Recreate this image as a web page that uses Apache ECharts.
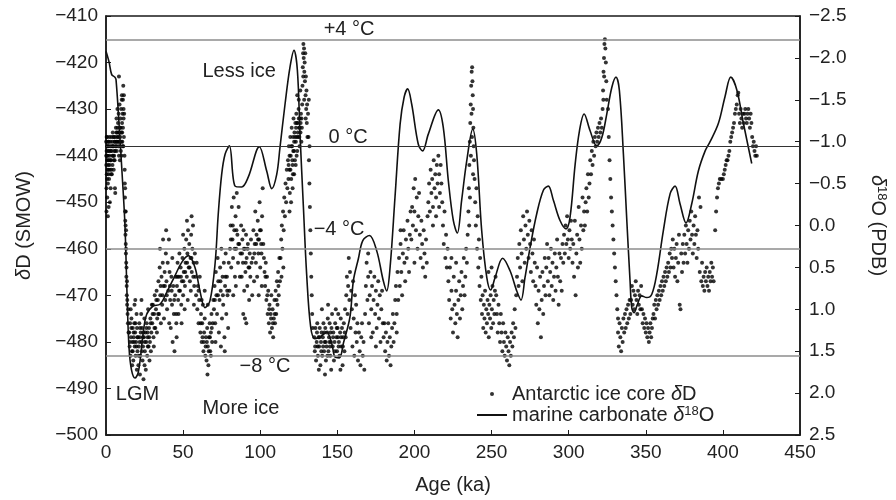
<!DOCTYPE html>
<html>
<head>
<meta charset="utf-8">
<title>Vostok dD vs marine d18O</title>
<script src="https://cdn.jsdelivr.net/npm/echarts@6/dist/echarts.min.js"></script>
<style>
  html, body { margin: 0; padding: 0; background: #fff; }
  #chart { width: 896px; height: 500px; }
</style>
</head>
<body>
<div id="chart"></div>
<script>
// Antarctic ice core dD, [age ka, dD permil SMOW]
var iceCoreDD = [
  [0.1,-437],[0.2,-442],[0.3,-447],[0.4,-439],[0.5,-444],[0.6,-436],[0.7,-441],[0.8,-449],[0.9,-438],[1.0,-443],
  [1.1,-440],[1.2,-446],[1.3,-437],[1.4,-442],[1.5,-439],[1.6,-444],[1.7,-451],[1.8,-438],[1.9,-441],[2.0,-445],
  [2.2,-436],[2.4,-440],[2.6,-443],[2.8,-438],[3.0,-447],[3.2,-441],[3.4,-436],[3.6,-439],[3.8,-444],[4.0,-437],
  [4.2,-442],[4.4,-435],[4.6,-440],[4.8,-438],[5.0,-443],[5.2,-436],[5.4,-439],[5.6,-441],[5.8,-437],[6.0,-448],
  [1.2,-453],[2.5,-450],[0.3,-452],[5.8,-447],
  [0.15,-440],[0.45,-436],[0.75,-445],[1.05,-438],[1.35,-441],[1.65,-437],[1.95,-439],[2.3,-442],[2.7,-437],[3.1,-439],
  [3.5,-443],[3.9,-438],[4.3,-440],[4.7,-436],[5.1,-441],[5.5,-437],[5.9,-439],[6.3,-438],[6.7,-435],[7.1,-437],
  [7.5,-434],[7.9,-436],[8.3,-437],[8.7,-435],[9.1,-438],[9.5,-434],[9.9,-437],[10.5,-435],[10.9,-438],[0.6,-440],
  [1.5,-443],[2.9,-441],[3.3,-444],[4.5,-438],[5.3,-440],
  [6.2,-436],[6.4,-434],[6.6,-438],[6.8,-432],[7.0,-437],[7.2,-435],[7.4,-430],[7.6,-436],[7.8,-433],[8.0,-438],
  [8.2,-431],[8.4,-435],[8.6,-437],[8.8,-429],[9.0,-434],[9.2,-436],[9.4,-432],[9.6,-439],[9.8,-430],[10.0,-435],
  [10.2,-428],[10.4,-433],[10.6,-437],[10.8,-431],[11.0,-434],[11.2,-438],[11.4,-432],[11.6,-436],
  [8.4,-440],[9.0,-441],[10.0,-440],[7.0,-439],[8.4,-423],[11.2,-425],[11.0,-428],[11.4,-430],[11.6,-427],[11.8,-431],[10.3,-427],
  [12.0,-440],[12.1,-443],[12.2,-446],[12.3,-449],[12.4,-452],[12.5,-454],[12.6,-457],[12.7,-455],[12.8,-459],[12.9,-461],
  [13.0,-460],[13.1,-463],[13.2,-466],[13.3,-464],[13.4,-468],[13.5,-470],[13.6,-467],[13.7,-472],[13.8,-471],[14.0,-474],
  [14.2,-476],[14.4,-473],[14.6,-478],[12.4,-447],[12.8,-452],[13.0,-456],
  [15.0,-478],[15.3,-481],[15.6,-476],[15.9,-483],[16.2,-479],[16.5,-475],[16.8,-482],[17.1,-480],[17.4,-477],[17.7,-484],
  [18.0,-479],[18.3,-476],[18.6,-481],[18.9,-478],[19.2,-483],[19.5,-480],[19.8,-474],[20.1,-477],[20.4,-482],[20.7,-479],
  [21.0,-485],[21.3,-481],[21.6,-476],[21.9,-479],[22.2,-483],[22.5,-478],[22.8,-474],[23.1,-480],[23.4,-477],[23.7,-484],
  [24.0,-481],[24.3,-488],[24.6,-479],[24.9,-475],[25.2,-482],[25.5,-478],[25.8,-486],[26.1,-480],[26.4,-476],[26.7,-483],
  [27.0,-479],[27.3,-473],[27.6,-481],[27.9,-477],[28.2,-484],[28.5,-480],[28.8,-475],[29.1,-482],[29.4,-478],[29.7,-472],
  [16.0,-473],[18.5,-472],[20.0,-486],[22.0,-487],[25.0,-485],[17.0,-485],[19.0,-471],[23.0,-471],
  [15.5,-480],[16.4,-477],[17.3,-482],[18.2,-480],[19.1,-476],[20.3,-479],[21.2,-483],[22.1,-477],[23.3,-482],[24.2,-478],
  [25.1,-480],[26.2,-477],[27.1,-481],[28.0,-479],[29.0,-476],[17.9,-478],[19.7,-481],[21.8,-480],[23.9,-479],[26.9,-478],
  [30.0,-476],[30.4,-472],[30.8,-479],[31.2,-474],[31.6,-470],[32.0,-477],[32.4,-473],[32.8,-469],[33.2,-475],[33.6,-471],
  [34.0,-467],[34.4,-474],[34.8,-464],[35.2,-470],[35.6,-476],[36.0,-466],[36.4,-472],[36.8,-463],[37.2,-468],[37.6,-475],
  [38.0,-465],[38.4,-471],[38.8,-461],[39.2,-467],[39.6,-473],[40.0,-463],[40.4,-469],[40.8,-458],[41.2,-465],[41.6,-471],
  [42.0,-477],[42.4,-466],[42.8,-472],[43.2,-480],[43.6,-468],[44.0,-474],[44.4,-482],[44.8,-470],[45.2,-466],[45.6,-476],
  [31.0,-481],[33.0,-478],[35.0,-460],[37.0,-458],[39.0,-456],[41.0,-476],[43.0,-462],
  [30.2,-474],[31.4,-477],[32.6,-471],[33.8,-474],[35.4,-468],[36.6,-470],[38.2,-468],[39.4,-470],[41.4,-468],[42.6,-469],[44.2,-471],
  [46.0,-468],[46.4,-463],[46.8,-471],[47.2,-466],[47.6,-461],[48.0,-469],[48.4,-464],[48.8,-472],[49.2,-467],[49.6,-462],
  [50.0,-470],[50.4,-465],[50.8,-460],[51.2,-468],[51.6,-463],[52.0,-458],[52.4,-466],[52.8,-461],[53.2,-456],[53.6,-464],
  [54.0,-459],[54.4,-467],[54.8,-462],[55.2,-457],[55.6,-465],[56.0,-460],[56.4,-455],[56.8,-463],[57.2,-468],[57.6,-461],
  [47.0,-474],[49.0,-476],[51.0,-473],[53.0,-471],[55.0,-469],[57.0,-472],[50.0,-457],[52.5,-454],[55.5,-453],[45.5,-474],[45.8,-479],
  [46.2,-466],[47.4,-469],[48.6,-466],[50.2,-467],[51.4,-465],[52.6,-463],[54.2,-464],[55.4,-462],[56.6,-466],
  [58.0,-466],[58.4,-470],[58.8,-463],[59.2,-473],[59.6,-468],[60.0,-476],[60.4,-471],[60.8,-466],[61.2,-478],[61.6,-474],
  [62.0,-480],[62.4,-476],[62.8,-472],[63.2,-482],[63.6,-478],[64.0,-475],[64.4,-483],[64.8,-479],[65.2,-484],[65.6,-477],
  [66.0,-481],[66.4,-485],[66.8,-479],[67.2,-476],[67.6,-482],[68.0,-478],[68.4,-474],[68.8,-480],[69.2,-476],[69.6,-471],
  [65.8,-487],[60.0,-469],[62.0,-471],[64.0,-469],[66.0,-472],[68.0,-483],
  [61.4,-476],[62.6,-479],[63.4,-480],[64.6,-481],[65.4,-480],[66.6,-482],[67.4,-479],[68.6,-477],
  [70.0,-473],[70.4,-468],[70.8,-476],[71.2,-465],[71.6,-470],[72.0,-474],[72.4,-462],[72.8,-467],[73.2,-478],[73.6,-471],
  [74.0,-464],[74.4,-469],[74.8,-460],[75.2,-475],[75.6,-466],[76.0,-472],[76.4,-463],[76.8,-479],[77.2,-468],[77.6,-461],
  [78.0,-474],[78.4,-466],[78.8,-470],[79.2,-477],[79.6,-463],[80.0,-469],[71.0,-480],[74.5,-481],[77.0,-482],
  [70.6,-471],[72.6,-470],[74.2,-467],[75.8,-470],[77.4,-466],[78.6,-469],
  [80.4,-460],[80.8,-455],[81.2,-464],[81.6,-451],[82.0,-458],[82.4,-462],[82.8,-449],[83.2,-456],[83.6,-466],[84.0,-453],
  [84.4,-460],[84.8,-448],[85.2,-457],[85.6,-463],[86.0,-451],[86.4,-459],[86.8,-466],[82.5,-470],[84.2,-468],
  [81.0,-458],[82.2,-455],[83.4,-460],[84.6,-456],[85.8,-459],
  [87.2,-461],[87.6,-455],[88.0,-466],[88.4,-458],[88.8,-463],[89.2,-456],[89.6,-469],[90.0,-460],[90.4,-465],[90.8,-457],
  [91.2,-462],[91.6,-468],[92.0,-459],[92.4,-464],[92.8,-471],[93.2,-461],[93.6,-466],[94.0,-458],[94.4,-463],[94.8,-470],
  [89.0,-474],[91.0,-476],[90.1,-475],
  [88.2,-461],[89.4,-460],[90.6,-463],[91.8,-460],[93.0,-464],
  [95.2,-462],[95.6,-456],[96.0,-467],[96.4,-459],[96.8,-452],[97.2,-463],[97.6,-457],[98.0,-466],[98.4,-454],[98.8,-461],
  [99.2,-458],[99.6,-450],[100.0,-464],[100.4,-456],[100.8,-461],[101.2,-453],[101.6,-447],[102.0,-459],[101.0,-468],[99.0,-470],
  [96.2,-461],[97.4,-459],[98.6,-458],[99.8,-456],[100.6,-459],
  [102.4,-462],[102.8,-465],[103.2,-468],[103.6,-463],[104.0,-471],[104.4,-466],[104.8,-474],[105.2,-469],[105.6,-476],[106.0,-472],
  [106.4,-478],[106.8,-474],[107.2,-470],[107.6,-477],[108.0,-473],[108.4,-479],[108.8,-475],[109.2,-471],[109.6,-476],[110.0,-469],
  [110.4,-474],[110.8,-467],[111.2,-472],[111.6,-465],[112.0,-470],[112.4,-462],[112.8,-467],
  [103.4,-466],[104.6,-470],[105.8,-473],[107.0,-475],[108.2,-476],[109.4,-474],[110.6,-471],[111.8,-468],
  [113.2,-462],[113.6,-458],[114.0,-455],[114.4,-460],[114.8,-452],[115.2,-456],[115.6,-449],[116.0,-453],[116.4,-446],[116.8,-450],
  [117.2,-443],[117.6,-447],[113.8,-466],[115.0,-464],
  [118.0,-441],[118.3,-445],[118.6,-438],[118.9,-443],[119.2,-448],[119.5,-436],[119.8,-440],[120.1,-445],[120.4,-434],[120.7,-438],
  [121.0,-442],[121.3,-436],[121.6,-432],[121.9,-439],[122.2,-435],[122.5,-441],[122.8,-433],[123.1,-437],[123.4,-431],[123.7,-436],
  [124.0,-439],[124.3,-433],[124.6,-436],[124.9,-430],[125.2,-434],[125.5,-438],[125.8,-432],[126.1,-435],[126.4,-431],[126.7,-437],
  [119.0,-452],[120.0,-450],[121.0,-447],[122.0,-444],[123.0,-442],[124.0,-427],[125.0,-428],[126.0,-426],[127.0,-434],[127.2,-429],
  [118.4,-442],[119.0,-440],[119.6,-443],[120.2,-438],[120.8,-441],[121.4,-439],[122.0,-437],[122.6,-436],[123.2,-434],[123.8,-433],
  [124.4,-435],[125.0,-432],[125.6,-434],[126.2,-433],[126.8,-432],[121.2,-444],[123.6,-440],[125.4,-436],
  [127.4,-425],[127.6,-421],[127.8,-418],[128.0,-416],[128.2,-419],[128.4,-417],[128.6,-422],[128.8,-420],[129.0,-424],[129.2,-418],
  [129.4,-427],[129.6,-423],[129.8,-430],[130.0,-426],[130.2,-433],[130.4,-429],[130.6,-436],[128.5,-428],[129.5,-432],[127.9,-423],
  [131.0,-431],[131.3,-436],[131.6,-441],[131.9,-446],[132.2,-451],[132.5,-456],[132.8,-461],[133.1,-466],[133.4,-470],[133.7,-474],
  [134.0,-477],[131.5,-428],[132.0,-438],
  [135.0,-479],[135.4,-482],[135.8,-477],[136.2,-484],[136.6,-480],[137.0,-476],[137.4,-483],[137.8,-479],[138.2,-481],[138.6,-477],
  [139.0,-485],[139.4,-480],[139.8,-478],[140.2,-483],[140.6,-479],[141.0,-476],[141.4,-482],[141.8,-480],[142.2,-477],[142.6,-484],
  [143.0,-481],[143.4,-478],[143.8,-475],[144.2,-482],[144.6,-479],[145.0,-476],[145.4,-483],[145.8,-480],[146.2,-477],[146.6,-474],
  [147.0,-481],[147.4,-478],[147.8,-484],[148.2,-480],[148.6,-476],[149.0,-473],[149.4,-479],[149.8,-482],[150.2,-477],[150.6,-474],
  [151.0,-480],[151.4,-483],[151.8,-478],[152.2,-475],[152.6,-481],[153.0,-477],[153.4,-485],[153.8,-479],[154.2,-476],[154.6,-482],
  [138.0,-486],[142.0,-487],[146.0,-486],[152.0,-486],[155.0,-473],[155.4,-479],[140.0,-473],[144.0,-472],
  [135.6,-481],[136.8,-478],[138.4,-479],[139.6,-482],[140.8,-481],[142.4,-480],[143.6,-483],[144.8,-480],[145.6,-478],[147.2,-479],
  [148.4,-482],[149.6,-477],[150.8,-481],[152.4,-479],[153.6,-481],[154.8,-478],[137.2,-481],[141.6,-478],[145.2,-481],[150.4,-479],
  [155.8,-470],[156.2,-466],[156.6,-474],[157.0,-468],[157.4,-462],[157.8,-471],[158.2,-465],[158.6,-477],[159.0,-469],[159.4,-473],
  [159.8,-481],[160.2,-467],[160.6,-475],[161.0,-483],[161.4,-470],[161.8,-478],[162.2,-472],[162.6,-480],[163.0,-476],[163.4,-484],
  [164.0,-478],[164.5,-482],[165.0,-485],[165.5,-479],[166.0,-476],[166.5,-483],[167.0,-480],[167.5,-486],
  [168.0,-474],[168.5,-468],[169.0,-463],[169.5,-471],[170.0,-466],[170.5,-476],[171.0,-470],[171.5,-465],[172.0,-473],[172.5,-468],
  [173.0,-478],[173.5,-471],[174.0,-466],[174.5,-474],[175.0,-469],[175.5,-477],[176.0,-472],[176.5,-467],[177.0,-475],[177.5,-470],
  [178.0,-480],[178.5,-473],[179.0,-469],[179.5,-476],[170.0,-461],[172.0,-479],[175.0,-481],
  [180.0,-479],[180.5,-476],[181.0,-482],[181.5,-478],[182.0,-484],[182.5,-480],[183.0,-476],[183.5,-483],[184.0,-479],[184.5,-485],
  [185.0,-481],[185.5,-477],[186.0,-474],[186.5,-480],[187.0,-476],[187.5,-471],
  [188.0,-468],[188.5,-474],[189.0,-465],[189.5,-471],[190.0,-462],[190.5,-468],[191.0,-459],[191.5,-465],[192.0,-470],[192.5,-461],
  [193.0,-456],[193.5,-463],[194.0,-467],[194.5,-458],[195.0,-462],[195.5,-454],[196.0,-460],[196.5,-465],[197.0,-457],[197.5,-452],
  [188.5,-478],[191.0,-456],
  [198.0,-458],[198.5,-451],[199.0,-455],[199.5,-447],[200.0,-452],[200.5,-445],[201.0,-456],[201.5,-449],[202.0,-460],[202.5,-453],
  [203.0,-448],[203.5,-457],[204.0,-462],[204.5,-454],[205.0,-459],[200.0,-463],
  [205.5,-464],[206.0,-456],[206.5,-461],[207.0,-466],[207.5,-458],[208.0,-463],[208.5,-453],
  [209.0,-450],[209.5,-446],[210.0,-452],[210.5,-443],[211.0,-448],[211.5,-445],[212.0,-451],[212.5,-441],[213.0,-447],[213.5,-444],
  [214.0,-449],[214.5,-442],[215.0,-446],[215.5,-440],[216.0,-444],[216.5,-448],[217.0,-442],[217.5,-446],[212.0,-455],[214.0,-453],[216.0,-451],
  [218.0,-450],[218.5,-455],[219.0,-459],[219.5,-452],[220.0,-462],[220.5,-457],[221.0,-464],[221.5,-460],
  [222.0,-467],[222.5,-471],[223.0,-464],[223.5,-475],[224.0,-469],[224.5,-473],[225.0,-478],[225.5,-466],[226.0,-472],[226.5,-476],
  [227.0,-469],[227.5,-474],[228.0,-479],[228.5,-471],[229.0,-467],[229.5,-475],[230.0,-470],[230.5,-465],[231.0,-473],[231.5,-468],
  [232.0,-462],[232.5,-470],[233.0,-466],[233.5,-460],[234.0,-463],[234.5,-457],[224.0,-462],[227.0,-463],
  [235.0,-452],[235.3,-447],[235.6,-442],[235.9,-437],[236.2,-433],[236.5,-429],[236.8,-425],[237.1,-422],[237.4,-421],[237.6,-424],
  [237.8,-427],[238.0,-430],[238.2,-434],[238.4,-438],[235.5,-455],[236.0,-449],[236.6,-440],[237.0,-431],[237.3,-436],[238.0,-444],[238.6,-441],
  [239.0,-445],[239.4,-450],[239.8,-455],[240.2,-447],[240.6,-460],[241.0,-453],[241.4,-464],[241.8,-458],[242.2,-468],[242.6,-462],
  [243.0,-471],[243.4,-466],
  [243.8,-474],[244.2,-470],[244.6,-477],[245.0,-472],[245.4,-475],[245.8,-469],[246.2,-478],[246.6,-473],[247.0,-476],[247.4,-471],
  [247.8,-474],[248.2,-479],[248.6,-472],[249.0,-475],[249.4,-470],[249.8,-477],[250.2,-473],[250.6,-468],[251.0,-476],[251.4,-471],
  [251.8,-474],[252.2,-469],[252.6,-466],[248.0,-465],[250.0,-464],
  [253.0,-470],[253.5,-474],[254.0,-478],[254.5,-472],[255.0,-476],[255.5,-480],[256.0,-474],[256.5,-478],[257.0,-482],[257.5,-476],
  [258.0,-480],[258.5,-483],[259.0,-478],[259.5,-481],[260.0,-484],[260.5,-479],[261.0,-482],[261.5,-485],[262.0,-480],[262.5,-483],
  [263.0,-478],[263.5,-481],[264.0,-476],[264.5,-479],[265.0,-473],[265.5,-477],[266.0,-470],
  [266.5,-466],[267.0,-462],[267.5,-468],[268.0,-459],[268.5,-464],[269.0,-456],[269.5,-461],[270.0,-467],[270.5,-453],[271.0,-458],
  [271.5,-463],[272.0,-455],[272.5,-460],[273.0,-452],[273.5,-457],[274.0,-462],[274.5,-454],[275.0,-459],[275.5,-465],[276.0,-456],
  [276.5,-461],[277.0,-467],[277.5,-458],[278.0,-463],
  [278.5,-468],[279.0,-472],[279.5,-464],[280.0,-476],[280.5,-469],[281.0,-473],[281.5,-466],[282.0,-479],[282.5,-471],[283.0,-465],
  [283.5,-474],[284.0,-468],[284.5,-462],[285.0,-470],
  [285.5,-464],[286.0,-459],[286.5,-467],[287.0,-462],[287.5,-470],[288.0,-465],[288.5,-460],[289.0,-468],[289.5,-463],[290.0,-471],
  [290.5,-466],[291.0,-461],[291.5,-469],[292.0,-464],[292.5,-458],[293.0,-466],[293.5,-472],[294.0,-461],[294.5,-467],[295.0,-462],
  [295.5,-469],[296.0,-459],
  [296.5,-463],[297.0,-457],[297.5,-461],[298.0,-455],[298.5,-459],[299.0,-453],[299.5,-458],[300.0,-462],[300.5,-456],[301.0,-460],
  [301.5,-454],[302.0,-458],[302.5,-463],
  [303.0,-459],[303.5,-466],[304.0,-454],[304.5,-470],[305.0,-461],[305.5,-457],[306.0,-464],[306.5,-451],[307.0,-458],[307.5,-463],
  [308.0,-455],[308.5,-460],[309.0,-449],[309.5,-456],[310.0,-452],
  [310.5,-455],[311.0,-450],[311.5,-447],[312.0,-452],[312.5,-444],[313.0,-449],[313.5,-446],[314.0,-441],[314.5,-444],[315.0,-439],
  [315.5,-442],[316.0,-437],[316.5,-440],[317.0,-436],[317.5,-438],[318.0,-435],[318.5,-437],[319.0,-434],[319.5,-436],[320.0,-433],
  [320.5,-435],[321.0,-432],[321.5,-434],[322.0,-430],[322.3,-426],[322.6,-422],[322.9,-419],[323.2,-416],[323.5,-415],[323.8,-417],
  [324.1,-420],[324.4,-424],[324.7,-428],[322.5,-428],[323.0,-423],
  [325.5,-430],[326.0,-436],[326.5,-441],[327.0,-445],[327.5,-449],[328.0,-452],[328.5,-455],[329.0,-458],[329.5,-461],[330.0,-464],
  [330.5,-467],[331.0,-470],[331.5,-473],[332.0,-475],
  [332.0,-478],[332.5,-481],[333.0,-476],[333.5,-479],[334.0,-482],[334.5,-477],[335.0,-480],[335.5,-475],[336.0,-478],[336.5,-474],
  [337.0,-477],[337.5,-473],[338.0,-476],[338.5,-472],[339.0,-475],[339.5,-471],[340.0,-474],
  [340.5,-471],[341.0,-468],[341.5,-472],[342.0,-469],[342.5,-473],[343.0,-470],[343.5,-467],[344.0,-471],[344.5,-474],[345.0,-469],
  [345.5,-472],[346.0,-470],[346.5,-473],[347.0,-468],
  [347.5,-473],[348.0,-476],[348.5,-474],[349.0,-477],[349.5,-475],[350.0,-478],[350.5,-476],[351.0,-479],[351.5,-477],[352.0,-480],
  [352.5,-478],[353.0,-476],[353.5,-479],[354.0,-477],[354.5,-475],
  [355.0,-474],[355.5,-472],[356.0,-475],[356.5,-471],[357.0,-473],[357.5,-470],[358.0,-472],[358.5,-469],[359.0,-471],[359.5,-468],
  [360.0,-470],[360.5,-467],[361.0,-469],[361.5,-466],[362.0,-468],[362.5,-465],[363.0,-467],[363.5,-464],[364.0,-466],
  [364.5,-463],[365.0,-465],[365.5,-461],[366.0,-464],[366.5,-460],[367.0,-462],[367.5,-458],[368.0,-464],[368.5,-460],[369.0,-466],
  [369.5,-462],[370.0,-459],[370.5,-467],[371.0,-463],[371.5,-457],[372.0,-472],[372.5,-473],[373.0,-461],[373.5,-465],[374.0,-459],
  [374.5,-463],[375.0,-457],[375.5,-461],[376.0,-455],[376.5,-459],[377.0,-463],[377.5,-456],[378.0,-460],[378.5,-454],[379.0,-458],
  [379.5,-452],[380.0,-457],[380.5,-461],[381.0,-455],[381.5,-459],[382.0,-453],[382.5,-457],[383.0,-462],[383.5,-456],[384.0,-460],
  [384.5,-449],[385.0,-465],[385.5,-451],[386.0,-467],[386.5,-463],[387.0,-468],[387.5,-466],[388.0,-469],[388.5,-465],[389.0,-467],
  [389.5,-464],[390.0,-468],[390.5,-466],[391.0,-469],[391.5,-465],[392.0,-467],[392.5,-463],[393.0,-466],[393.5,-464],[394.0,-467],
  [395.0,-456],[395.6,-452],[396.2,-449],[396.8,-447],[397.4,-446],[398.0,-445],[399.0,-445],[400.0,-445],[400.6,-444],[401.2,-443],
  [401.8,-442],[402.4,-441],[403.0,-441],[403.6,-440],[404.2,-439],[404.8,-437],[405.4,-436],[406.0,-435],[406.6,-434],[407.2,-433],
  [407.8,-431],[408.4,-430],[409.0,-429],[409.6,-427],[410.0,-426.5],
  [410.5,-431],[411.0,-433],[411.5,-430],[412.0,-432],[412.5,-434],[413.0,-431],[413.5,-433],[414.0,-431],[414.5,-430],[415.0,-432],
  [415.5,-433],[416.0,-431],[416.5,-430],[417.0,-432],[417.5,-434],[418.0,-431],[418.5,-433],[419.0,-436],[419.5,-438],[420.0,-437],
  [420.5,-439],[421.0,-440],[421.5,-438],[422.0,-440]
];

// marine carbonate d18O, [age ka, d18O permil PDB]
var carbonateD18O = [
  [0,-2.08],[2,-1.95],[3.7,-1.80],[5.8,-1.77],[6.5,-1.74],[8.5,-1.2],[10.5,-0.6],[12.3,0.0],[13.6,0.8],[14.9,1.45],
  [16.5,1.72],[18.8,1.82],[20.8,1.76],[22.5,1.55],[24,1.3],[26.4,1.06],[30.7,0.96],[35.0,0.94],[39.3,0.80],[44.7,0.60],
  [49.1,0.44],[53.4,0.36],[57.7,0.50],[60.9,0.78],[64.2,0.98],[67.4,0.90],[70.7,0.46],[72.8,-0.14],[75.0,-0.61],[77.2,-0.85],
  [80.0,-0.95],[83.7,-0.47],[88.0,-0.46],[92.3,-0.58],[99.4,-0.94],[104.2,-0.65],[107.5,-0.44],[110.7,-0.61],[112.8,-0.93],[116.1,-1.45],
  [119.3,-1.89],[121.9,-2.09],[124.1,-1.85],[125.8,-1.09],[128.0,-0.22],[130.1,0.58],[132.7,1.21],[135.5,1.35],[138.8,1.33],[143.1,1.27],
  [146.4,1.41],[148.5,1.57],[151.3,1.58],[154.0,1.40],[158.2,1.09],[160.4,0.66],[163.6,0.40],[166.5,0.18],[170.8,0.12],[175.5,0.30],
  [179.8,0.66],[182.0,0.78],[184.2,0.50],[187.4,-0.34],[190.7,-1.21],[193.3,-1.53],[195.6,-1.63],[198.2,-1.45],[202.5,-0.97],[205.3,-0.89],
  [209.0,-1.09],[215.5,-1.38],[218.7,-1.17],[222.0,-0.53],[225.2,-0.06],[227.8,0.09],[230.6,-0.30],[233.9,-0.77],[237.8,-1.15],[240.4,-0.85],
  [243.6,0.06],[246.9,0.62],[249.4,0.77],[252.3,0.62],[257.2,0.39],[262.0,0.54],[266.3,0.78],[269.1,0.89],[271.7,0.62],[275.0,0.26],
  [279.3,-0.14],[283.6,-0.42],[286.8,-0.47],[290.1,-0.30],[294.4,-0.06],[298.3,0.04],[300.9,-0.10],[304.2,-0.73],[307.0,-1.13],[310.0,-1.33],
  [313.9,-1.13],[318.2,-0.95],[321.5,-1.05],[324.7,-1.33],[328.0,-1.65],[330.7,-1.77],[332.9,-1.61],[335.5,-0.85],[337.7,-0.06],[339.8,0.66],
  [340.9,0.98],[342.4,1.04],[344.6,0.94],[347.4,0.84],[350.6,0.86],[353.9,0.82],[357.1,0.58],[361.4,0.06],[365.8,-0.38],[369.0,-0.47],
  [372.2,-0.26],[376.1,-0.03],[379.8,-0.26],[384.1,-0.65],[388.5,-0.89],[391.7,-1.00],[397.1,-1.22],[401.4,-1.54],[405.1,-1.77],[409.0,-1.62],
  [413.3,-1.22],[418.7,-0.74]
];

// temperature reference levels on the dD axis
var refLevels = [-415, -438, -460, -483];

// text notes inside the plot: [text, age, dD]
var notes = [
  ['+4 \u00B0C', 157.6, -413.0],
  ['0 \u00B0C', 157, -436.1],
  ['\u22124 \u00B0C', 151.1, -455.9],
  ['\u22128 \u00B0C', 103.1, -485.3],
  ['Less ice', 86.3, -421.9],
  ['More ice', 87.5, -494.3],
  ['LGM', 20.4, -491.4]
];

var FONT = '"Liberation Sans", Arial, Helvetica, sans-serif';
var INK = '#222';

function fmtMinus(v, digits) {
  var s = digits ? Math.abs(v).toFixed(digits) : String(Math.abs(v));
  return v < 0 ? '\u2212' + s : s;
}

var myChart = echarts.init(document.getElementById('chart'));
var option = {
  animation: false,
  backgroundColor: '#fff',
  textStyle: { fontFamily: FONT, color: INK },
  grid: {
    left: 106, right: 96, top: 16, bottom: 65,
    show: true, borderColor: '#1a1a1a', borderWidth: 1.5
  },
  legend: {
    orient: 'vertical',
    left: 471,
    top: 379,
    itemWidth: 30,
    itemHeight: 4,
    itemGap: 1,
    textStyle: {
      fontFamily: FONT, fontSize: 20, color: INK,
      rich: {
        i: { fontFamily: FONT, fontSize: 20, fontStyle: 'italic', color: INK },
        s: { fontFamily: FONT, fontSize: 13, color: INK, verticalAlign: 'top' }
      }
    },
    formatter: function (name) {
      if (name.indexOf('Antarctic') === 0) return 'Antarctic ice core {i|\u03B4}D';
      return 'marine carbonate {i|\u03B4}{s|18}O';
    },
    data: [
      { name: 'Antarctic ice core \u03B4D', icon: 'circle' },
      { name: 'marine carbonate \u03B418O', itemStyle: { color: 'rgba(0,0,0,0)', borderColor: 'rgba(0,0,0,0)', borderWidth: 0 } }
    ]
  },
  xAxis: {
    type: 'value',
    min: 0, max: 450, interval: 50,
    name: 'Age (ka)',
    nameLocation: 'middle',
    nameGap: 40,
    nameTextStyle: { fontFamily: FONT, fontSize: 20, color: INK },
    axisLine: { onZero: false, lineStyle: { color: '#1a1a1a', width: 1.5 } },
    axisTick: { inside: true, length: 5, lineStyle: { color: '#1a1a1a', width: 1 } },
    axisLabel: { fontFamily: FONT, fontSize: 19, color: INK, margin: 8 },
    splitLine: { show: false }
  },
  yAxis: [{
    type: 'value',
    min: -500, max: -410, interval: 10,
    name: '{i|\u03B4}D (SMOW)',
    nameLocation: 'middle',
    nameRotate: 90,
    nameGap: 72,
    nameTextStyle: {
      fontFamily: FONT, fontSize: 20, color: INK,
      rich: { i: { fontFamily: FONT, fontSize: 20, fontStyle: 'italic', color: INK } }
    },
    axisLine: { show: true, onZero: false, lineStyle: { color: '#1a1a1a', width: 1.5 } },
    axisTick: { show: true, inside: true, length: 5, lineStyle: { color: '#1a1a1a', width: 1 } },
    axisLabel: { fontFamily: FONT, fontSize: 19, color: INK, margin: 8, formatter: function (v) { return fmtMinus(v); } },
    splitLine: { show: false }
  }, {
    type: 'value',
    position: 'right',
    inverse: true,
    min: -2.5, max: 2.5, interval: 0.5,
    name: '{i|\u03B4}{s|18}O (PDB)',
    nameLocation: 'middle',
    nameRotate: -90,
    nameGap: 68,
    nameTextStyle: {
      fontFamily: FONT, fontSize: 20, color: INK,
      rich: {
        i: { fontFamily: FONT, fontSize: 20, fontStyle: 'italic', color: INK },
        s: { fontFamily: FONT, fontSize: 13, color: INK, verticalAlign: 'top' }
      }
    },
    axisLine: { show: true, onZero: false, lineStyle: { color: '#1a1a1a', width: 1.5 } },
    axisTick: { show: true, inside: true, length: 5, lineStyle: { color: '#1a1a1a', width: 1 } },
    axisLabel: { fontFamily: FONT, fontSize: 19, color: INK, margin: 9, formatter: function (v) { return fmtMinus(v, 1); } },
    splitLine: { show: false }
  }],
  series: [{
    name: 'Antarctic ice core \u03B4D',
    type: 'scatter',
    yAxisIndex: 0,
    symbol: 'circle',
    symbolSize: 4,
    itemStyle: { color: '#000' },
    data: iceCoreDD,
    markLine: {
      silent: true,
      symbol: ['none', 'none'],
      label: { show: false },
      data: refLevels.map(function (v) {
        return {
          yAxis: v,
          lineStyle: v === -438
            ? { color: '#333', width: 1, type: 'solid' }
            : { color: '#8c8c8c', width: 1.6, type: 'solid' }
        };
      })
    },
    markPoint: {
      silent: true,
      symbol: 'circle',
      symbolSize: 0,
      label: {
        show: true, position: 'inside', formatter: '{b}',
        fontFamily: FONT, fontSize: 20, color: INK
      },
      data: notes.map(function (n) {
        return { name: n[0], coord: [n[1], n[2]] };
      })
    }
  }, {
    name: 'marine carbonate \u03B418O',
    type: 'line',
    yAxisIndex: 1,
    symbol: 'none',
    smooth: 0.35,
    lineStyle: { color: '#111', width: 1.6 },
    itemStyle: { color: '#111' },
    data: carbonateD18O
  }]
};
myChart.setOption(option);
window.addEventListener('resize', function () {
  myChart.resize();
});
</script>
</body>
</html>
